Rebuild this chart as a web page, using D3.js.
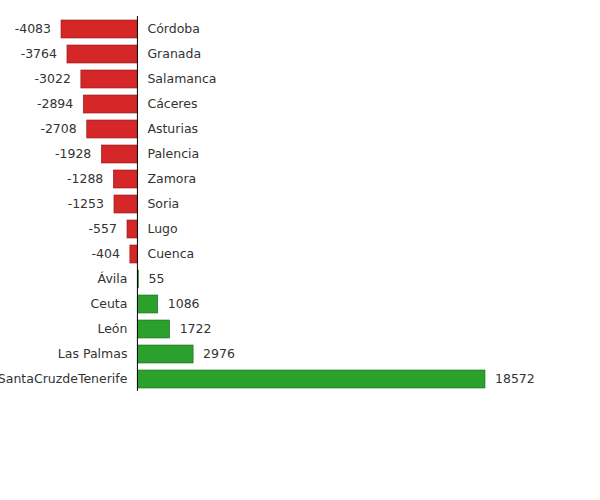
<!DOCTYPE html>
<html><head><meta charset="utf-8">
<script src="https://cdn.jsdelivr.net/npm/d3@7"></script>
<style>body{margin:0;background:#fff}text{font-family:"DejaVu Sans",sans-serif;font-size:12.5px;fill:#333}</style>
</head><body><svg id="c" width="600" height="500"></svg>
<script>
const categories = ["Córdoba","Granada","Salamanca","Cáceres","Asturias","Palencia","Zamora","Soria","Lugo","Cuenca","Ávila","Ceuta","León","Las Palmas","SantaCruzdeTenerife"];
const values = [-4083,-3764,-3022,-2894,-2708,-1928,-1288,-1253,-557,-404,55,1086,1722,2976,18572];

const svg = d3.select('#c');
const x = d3.scaleLinear().domain([-4083, 18572]).range([61, 485]);
const y = d3.scaleBand().domain(categories).range([16.5, 391.5]).paddingInner(0.28).paddingOuter(0.14);

const rows = svg.selectAll('g.row').data(categories).enter().append('g')
  .attr('transform', d => `translate(0,${y(d)})`);

rows.append('rect')
  .attr('x', (d, i) => x(Math.min(0, values[i])))
  .attr('width', (d, i) => Math.abs(x(values[i]) - x(0)))
  .attr('height', y.bandwidth())
  .attr('fill', (d, i) => values[i] < 0 ? '#d62728' : '#2ca02c')
  .attr('stroke', (d, i) => values[i] < 0 ? '#8b1a1a' : '#1a6b1a')
  .attr('stroke-width', 0.6);

// value labels
rows.append('text')
  .attr('x', (d, i) => values[i] < 0 ? x(values[i]) - 10 : x(values[i]) + 10)
  .attr('y', y.bandwidth() / 2).attr('dy', '0.35em')
  .attr('text-anchor', (d, i) => values[i] < 0 ? 'end' : 'start')
  .text((d, i) => values[i]);

// category labels
rows.append('text')
  .attr('x', (d, i) => values[i] < 0 ? x(0) + 10 : x(0) - 10)
  .attr('y', y.bandwidth() / 2).attr('dy', '0.35em')
  .attr('text-anchor', (d, i) => values[i] < 0 ? 'start' : 'end')
  .text(d => d);

svg.append('line').attr('x1', x(0)).attr('x2', x(0)).attr('y1', 16).attr('y2', 391)
  .attr('stroke', '#000').attr('stroke-width', 1);
</script></body></html>
